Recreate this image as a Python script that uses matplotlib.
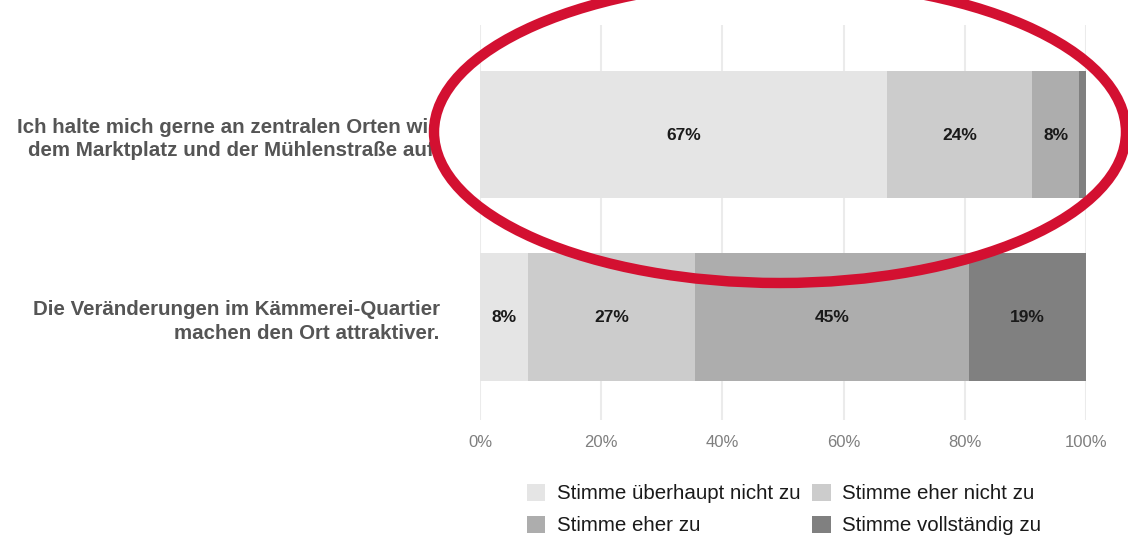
import matplotlib
matplotlib.use("Agg")
import matplotlib.pyplot as plt
from matplotlib.patches import Ellipse, Patch

plt.rcParams['font.family'] = ['Liberation Sans', 'DejaVu Sans']

# Data
statements = [
    "Ich halte mich gerne an zentralen Orten wie\ndem Marktplatz und der Mühlenstraße auf.",
    "Die Veränderungen im Kämmerei-Quartier\nmachen den Ort attraktiver.",
]
categories = ["Stimme überhaupt nicht zu", "Stimme eher nicht zu",
              "Stimme eher zu", "Stimme vollständig zu"]
s1_values = [67.2, 23.9, 7.8, 1.1]
s2_values = [8.0, 27.4, 45.3, 19.3]
colors = ["#e5e5e5", "#cccccc", "#adadad", "#808080"]
xticks = [0, 20, 40, 60, 80, 100]
xticklabels = ["0%", "20%", "40%", "60%", "80%", "100%"]

W, H = 1128, 536
fig = plt.figure(figsize=(W / 100, H / 100), dpi=100)
ax = fig.add_axes([480 / W, 1 - 420 / H, (1086 - 480) / W, (420 - 25) / H])

values = [s1_values, s2_values]
ypos = [1, 0]
for i, (vals, y) in enumerate(zip(values, ypos)):
    left = 0
    for j, v in enumerate(vals):
        ax.barh(y, v, left=left, height=0.70, color=colors[j], edgecolor='none', zorder=2)
        if v >= 5:
            ax.text(left + v / 2, y - 0.005, f"{round(v):d}%", ha='center', va='center',
                    fontsize=12.5, fontweight='bold', color='#1a1a1a', zorder=3)
        left += v

ax.set_xlim(0, 100)
ax.set_ylim(-0.564, 1.6)
ax.set_xticks(xticks)
ax.set_xticklabels(xticklabels, fontsize=12, color='#7f7f7f')
ax.set_yticks(ypos)
ax.set_yticklabels(statements, fontsize=14.8, fontweight='bold', color='#555555',
                   multialignment='right', linespacing=1.3)
ax.tick_params(axis='both', length=0)
ax.tick_params(axis='x', pad=11)
ax.tick_params(axis='y', pad=29)
ax.grid(axis='x', color='#ebebeb', linewidth=1.5, zorder=0)
ax.set_axisbelow(True)
for s in ax.spines.values():
    s.set_visible(False)

handles = [Patch(facecolor=c, edgecolor='none') for c in colors]
order = [0, 2, 1, 3]
leg = fig.legend([handles[k] for k in order], [categories[k] for k in order],
                 ncol=2, loc='upper left', bbox_to_anchor=(527 / W, 1 - 484 / H),
                 frameon=False, fontsize=14.8, handlelength=0.88, handleheight=0.88,
                 handletextpad=0.58, columnspacing=0.58, labelspacing=0.6,
                 borderaxespad=0, borderpad=0)
for t in leg.get_texts():
    t.set_color('#1a1a1a')

# Red annotation ellipse (figure pixel coordinates)
ell = Ellipse((780, H - 132), width=692, height=302, angle=0,
              transform=None, fill=False, edgecolor='#d31031', linewidth=7.5,
              zorder=10)
fig.patches.append(ell)

fig.savefig("out.png", dpi=100)
